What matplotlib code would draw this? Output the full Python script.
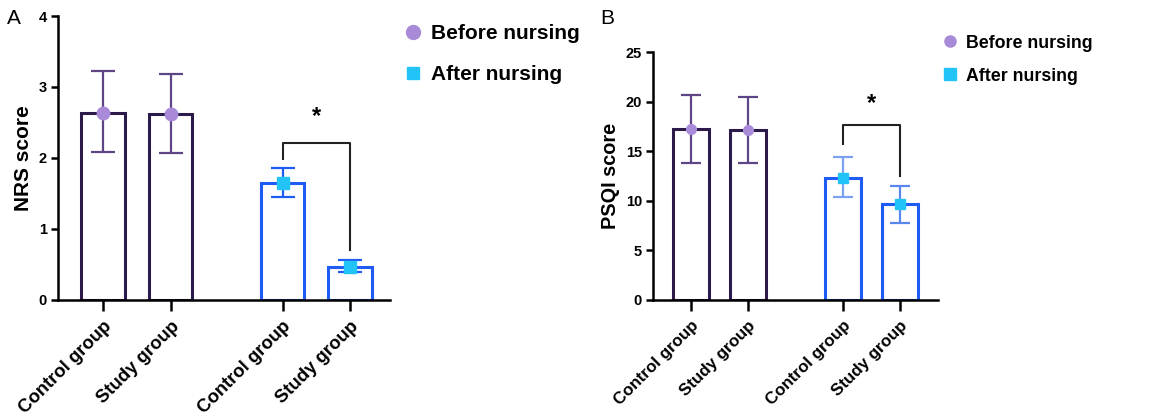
import matplotlib
matplotlib.use("Agg")
import matplotlib.pyplot as plt
from matplotlib.lines import Line2D

plt.rcParams['font.family'] = ['Liberation Sans', 'DejaVu Sans']

categories = ["Control group", "Study group", "Control group", "Study group"]
positions = [0, 1, 2.66, 3.66]
phase = ["before", "before", "after", "after"]

nrs_mean = [2.64, 2.62, 1.65, 0.47]
nrs_low = [2.08, 2.07, 1.45, 0.40]
nrs_high = [3.22, 3.19, 1.86, 0.56]

psqi_mean = [17.2, 17.1, 12.3, 9.7]
psqi_low = [13.8, 13.8, 10.4, 7.8]
psqi_high = [20.7, 20.5, 14.4, 11.5]

before_edge = "#2b1a4a"
before_err = "#5e4585"
before_marker = "#a88ad8"
after_edge = "#1f5cf5"
after_marker = "#22c4f8"

fig = plt.figure(figsize=(11.56, 4.16), dpi=100)

def draw(ax, means, lows, highs, ylim, yticks, ylabel, capsize, msize, ylab_fs, xt_fs, yt_fs, err_after, bracket, star_y, width):
    for i, (p, m, lo, hi, ph) in enumerate(zip(positions, means, lows, highs, phase)):
        ec = before_edge if ph == "before" else after_edge
        ax.bar(p, m, width=width, facecolor="white", edgecolor=ec, linewidth=2.2, zorder=2)
        errc = before_err if ph == "before" else err_after[i - 2]
        ax.errorbar(p, m, yerr=[[m - lo], [hi - m]], fmt="none", ecolor=errc,
                    elinewidth=1.6, capsize=capsize, capthick=1.6, zorder=3)
        if ph == "before":
            ax.plot(p, m, marker="o", color=before_marker, markersize=msize, zorder=4, linestyle="none")
        else:
            ax.plot(p, m, marker="s", color=after_marker, markersize=msize, zorder=4, linestyle="none")
    x1, x2 = positions[2], positions[3]
    ytop, yl, yr = bracket
    ax.plot([x1, x1, x2, x2], [yl, ytop, ytop, yr], color="#222222", linewidth=1.5, zorder=5)
    ax.text((x1 + x2) / 2, star_y, "*", ha="center", va="center", fontsize=17, fontweight="bold")
    ax.set_ylim(*ylim)
    ax.set_yticks(yticks)
    ax.set_xticks(positions)
    ax.set_xticklabels(categories, rotation=45, ha="right", rotation_mode="anchor",
                       fontsize=xt_fs, fontweight="bold")
    for lab in ax.get_yticklabels():
        lab.set_fontweight("bold")
        lab.set_fontsize(yt_fs)
    ax.set_ylabel(ylabel, fontsize=ylab_fs, fontweight="bold")
    ax.spines["top"].set_visible(False)
    ax.spines["right"].set_visible(False)
    ax.spines["left"].set_linewidth(1.8)
    ax.spines["bottom"].set_linewidth(1.8)
    ax.tick_params(axis="y", length=5, width=1.8, pad=3)
    ax.tick_params(axis="x", length=8, width=1.8, pad=5)

axA = fig.add_axes([0.0502, 0.279, 0.2870, 0.6825])
axA.set_xlim(-0.667, 4.25)
draw(axA, nrs_mean, nrs_low, nrs_high, (0, 4), [0, 1, 2, 3, 4], "NRS score",
     8.3, 9, 15, 13.3, 10.5, [after_edge, after_edge], (2.21, 1.99, 0.70), 2.58, 0.64)

axB = fig.add_axes([0.5649, 0.279, 0.2465, 0.596])
axB.set_xlim(-0.667, 4.33)
draw(axB, psqi_mean, psqi_low, psqi_high, (0, 25), [0, 5, 10, 15, 20, 25], "PSQI score",
     7, 7, 14.3, 12.2, 10.5, ["#7ea2f2", "#5a86f0"], (17.6, 15.7, 12.5), 19.8, 0.63)

hA = [Line2D([], [], marker="o", color=before_marker, linestyle="none", markersize=10),
      Line2D([], [], marker="s", color=after_marker, linestyle="none", markersize=9)]
fig.legend(hA, ["Before nursing", "After nursing"], loc="upper left",
           bbox_to_anchor=(0.332, 0.987), frameon=False,
           prop={"weight": "bold", "size": 15}, handletextpad=0.35, labelspacing=1.05,
           handlelength=1.0)
hB = [Line2D([], [], marker="o", color=before_marker, linestyle="none", markersize=8),
      Line2D([], [], marker="s", color=after_marker, linestyle="none", markersize=8)]
fig.legend(hB, ["Before nursing", "After nursing"], loc="upper left",
           bbox_to_anchor=(0.800, 0.955), frameon=False,
           prop={"weight": "bold", "size": 12.8}, handletextpad=0.4, labelspacing=0.9,
           handlelength=1.0)

fig.text(0.006, 0.955, "A", fontsize=15, ha="left", va="center")
fig.text(0.519, 0.955, "B", fontsize=15, ha="left", va="center")

fig.savefig("out.png", dpi=100)
